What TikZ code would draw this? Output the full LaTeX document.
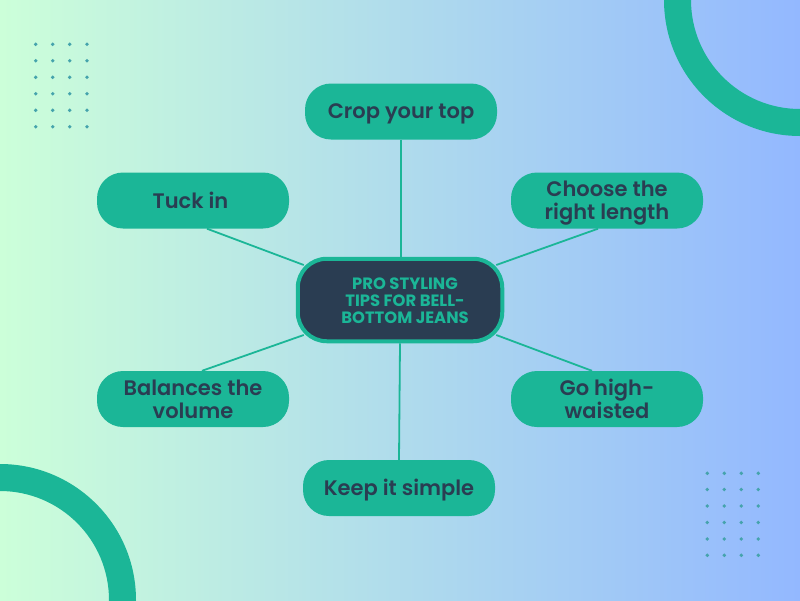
\documentclass[tikz,border=0pt]{standalone}
\usepackage{fontspec}
\setmainfont{Poppins SemiBold}
\newfontfamily\hubfont{Poppins Bold}
\newcommand{\lowstrut}{\rule[-2.5pt]{0pt}{2.5pt}}
\newcommand{\topstrut}[1]{\rule{0pt}{#1pt}}
\definecolor{teal1}{HTML}{1BB697}
\definecolor{navy1}{HTML}{2A3D52}
\definecolor{bgl}{HTML}{CCFFD9}
\definecolor{bgr}{HTML}{93B8FF}
\definecolor{dotc}{HTML}{45A3AC}
\tikzset{
  leaf/.style={draw=none,fill=teal1,rounded corners=26pt,minimum width=192pt,minimum height=56pt,inner sep=0pt,align=center,text=navy1,font=\fontsize{21}{23}\selectfont},
  hubbox/.style={draw=teal1,line width=4pt,fill=navy1,rounded corners=29pt,minimum width=204.5pt,minimum height=82.5pt,inner sep=0pt,text=teal1,font=\hubfont\fontsize{16.4}{17}\selectfont},
  link/.style={draw=teal1,line width=1.8pt},
  ring/.style={fill=teal1,even odd rule},
  dotm/.style={fill=dotc}
}
\begin{document}
\begin{tikzpicture}[x=1pt,y=-1pt]
\useasboundingbox (0,0) rectangle (800,600);
\shade[left color=bgl,right color=bgr] (0,0) rectangle (800,600);
\begin{scope}
\clip (0,0) rectangle (800,600);
\fill[ring] (800,0) circle (136) (800,0) circle (109);
\fill[ring] (0,600) circle (136) (0,600) circle (109);
\end{scope}
\foreach \x in {35.7,52.7,69.7,87}{\foreach \y in {44.3,60.7,77.3,93.7,110.3,126.7}{\fill[dotm] (\x,\y) circle (1.9);}}
\foreach \x in {707.3,724.3,741.3,758.3}{\foreach \y in {473.3,489.5,506,522.5,539,555.3}{\fill[dotm] (\x,\y) circle (1.9);}}
\node[hubbox] (hub) at (400,300) {\hspace*{10pt}\parbox{140pt}{\centering \topstrut{14}PRO STYLING\\TIPS FOR BELL-\\BOTTOM JEANS}};
\node[leaf] (crop) at (401,111.5) {\topstrut{20}Crop your top\lowstrut};
\node[leaf] (tuck) at (193,200.5) {\hspace*{-5pt}\topstrut{18}Tuck in\lowstrut};
\node[leaf] (choose) at (607,200.5) {\topstrut{20}Choose the\\right length\lowstrut};
\node[leaf] (balance) at (193,399) {\topstrut{18}Balances the\\volume\lowstrut};
\node[leaf] (high) at (607,399) {\topstrut{18}Go high-\\waisted\lowstrut};
\node[leaf] (simple) at (399,488) {\topstrut{20}Keep it simple\lowstrut};
\draw[link] (crop.south) -- (crop.south |- hub.north);
\draw[link] (simple.north) -- ([xshift=0pt]hub.south);
\draw[link] ([xshift=14pt]tuck.south) -- ([xshift=8pt,yshift=35pt]hub.west);
\draw[link] ([xshift=-9pt]choose.south) -- ([xshift=-8pt,yshift=35pt]hub.east);
\draw[link] ([xshift=9pt]balance.north) -- ([xshift=8pt,yshift=-35pt]hub.west);
\draw[link] ([xshift=-15pt]high.north) -- ([xshift=-8pt,yshift=-35pt]hub.east);
\end{tikzpicture}
\end{document}
